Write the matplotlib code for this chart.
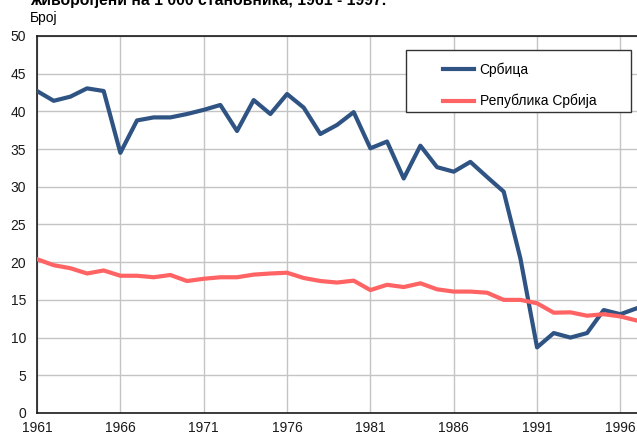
import matplotlib.pyplot as plt
from matplotlib.patches import Rectangle

plt.rcParams['font.family'] = ['Liberation Sans', 'DejaVu Sans']

# Live births per 1 000 inhabitants, 1961-1997
years = list(range(1961, 1998))
srbica = [42.7, 41.4, 41.95, 43.05, 42.7, 34.5, 38.8, 39.2, 39.2, 39.65,
          40.2, 40.85, 37.4, 41.5, 39.65, 42.3, 40.5, 37.0, 38.2, 39.9,
          35.1, 36.0, 31.1, 35.45, 32.6, 32.0, 33.3, 31.3, 29.35, 20.5,
          8.7, 10.6, 10.0, 10.6, 13.65, 13.1, 13.9]
serbia = [20.4, 19.6, 19.2, 18.5, 18.9, 18.2, 18.2, 18.0, 18.3, 17.5,
          17.8, 18.0, 18.0, 18.35, 18.5, 18.6, 17.9, 17.5, 17.3, 17.55,
          16.3, 17.0, 16.7, 17.2, 16.4, 16.1, 16.1, 15.95, 15.0, 15.0,
          14.55, 13.3, 13.35, 12.9, 13.1, 12.8, 12.25]
xticks = list(range(1961, 1998, 5))
yticks = list(range(0, 51, 5))

fig = plt.figure(figsize=(6.37, 4.36), dpi=100)
ax = fig.add_axes([0.0581, 0.0528, 0.942, 0.8647])

ax.plot(years, srbica, color='#2f5484', lw=3, label='Србица', zorder=3)
ax.plot(years, serbia, color='#ff6363', lw=3, label='Република Србија', zorder=3)

ax.set_xlim(1961, 1997)
ax.set_ylim(0, 50)
ax.set_xticks(xticks)
ax.set_yticks(yticks)
ax.tick_params(length=0, labelsize=10, colors='#1a1a1a')
ax.tick_params(axis='y', pad=8)
ax.tick_params(axis='x', pad=5.5)
ax.grid(True, color='#c4c4c4', lw=1)
ax.set_axisbelow(True)
for s in ['left', 'bottom', 'top']:
    ax.spines[s].set_color('#1a1a1a')
    ax.spines[s].set_linewidth(1.2)
ax.spines['right'].set_visible(False)

# legend box
ax.add_patch(Rectangle((0.615, 0.798), 0.375, 0.165, transform=ax.transAxes,
                       facecolor='white', edgecolor='#333333', lw=1, zorder=5))
leg = ax.legend(loc='upper left', bbox_to_anchor=(0.668, 0.945), frameon=False,
                fontsize=10, handlelength=2.2, handletextpad=0.4,
                labelspacing=1.25, borderaxespad=0, borderpad=0.4)
leg.set_zorder(6)

fig.text(30 / 637, 1 - 5 / 436, 'живорођени на 1 000 становника, 1961 - 1997.',
         fontsize=11.3, fontweight='bold', va='baseline', ha='left')
fig.text(30 / 637, 1 - 22 / 436, 'Број', fontsize=10, va='baseline', ha='left')

fig.savefig('out.png', dpi=100)
